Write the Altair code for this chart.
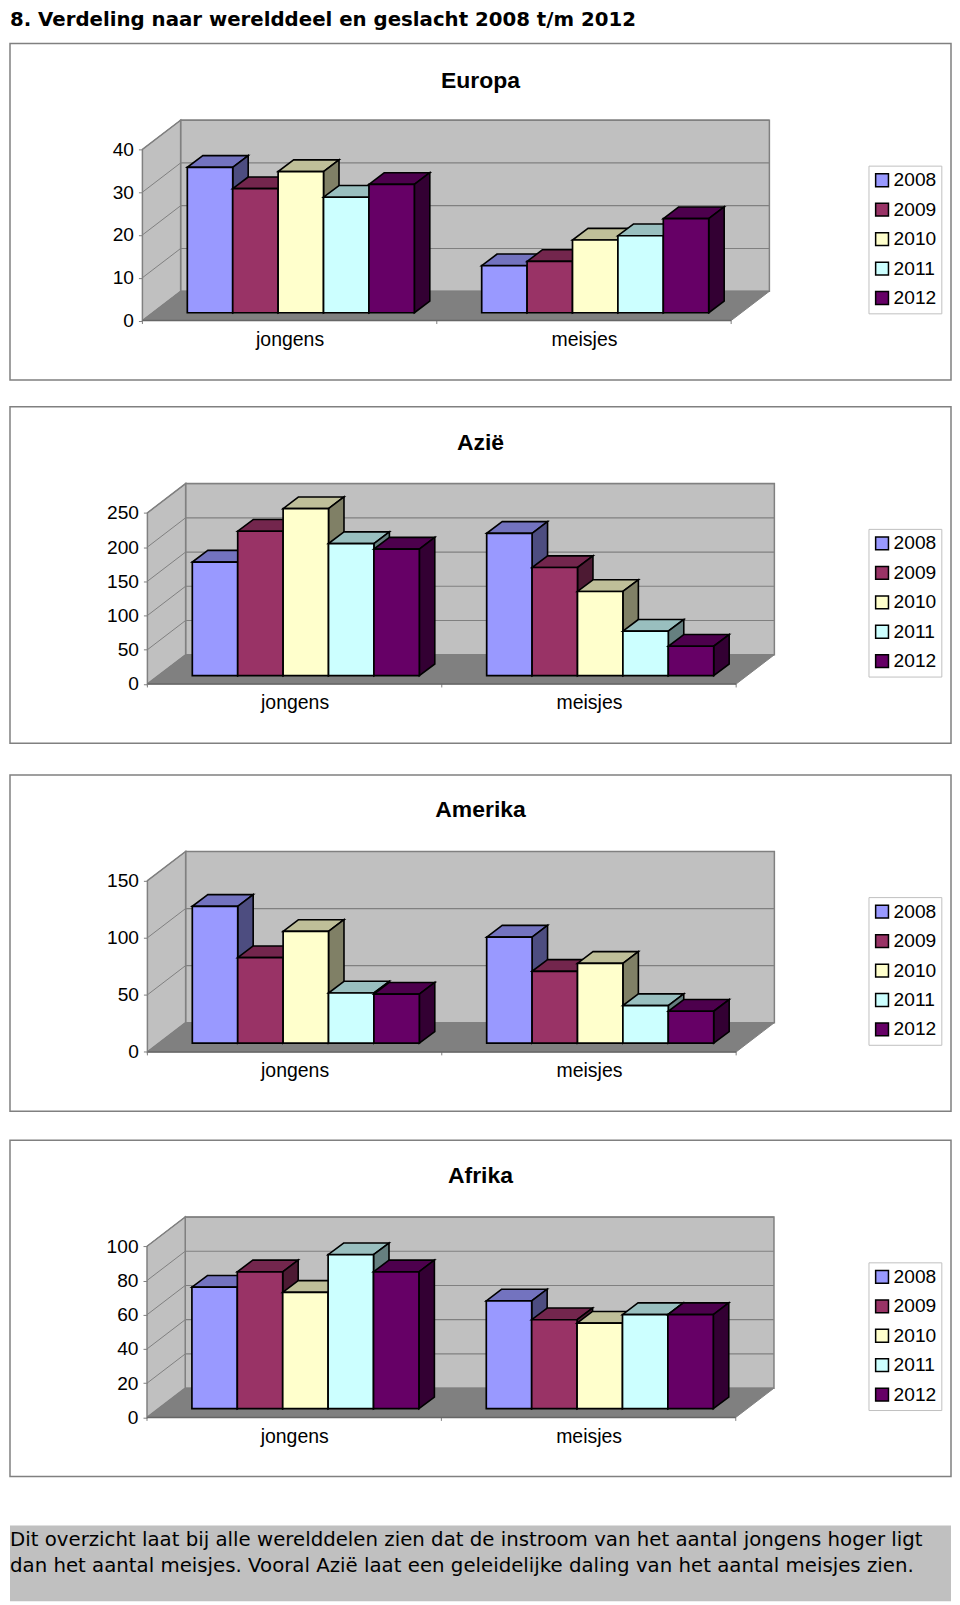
import altair as alt

HEADING = "8. Verdeling naar werelddeel en geslacht 2008 t/m 2012"
FOOT_1 = "Dit overzicht laat bij alle werelddelen zien dat de instroom van het aantal jongens hoger ligt"
FOOT_2 = "dan het aantal meisjes. Vooral Azië laat een geleidelijke daling van het aantal meisjes zien."

YEARS = ["2008", "2009", "2010", "2011", "2012"]
GROUPS = ["jongens", "meisjes"]
COLORS = ["#9999FF", "#993366", "#FFFFCC", "#CCFFFF", "#660066"]
TOPS = ["#7373BF", "#73264D", "#BFBF99", "#99BFBF", "#4D004D"]
SIDES = ["#4D4D80", "#4D1A33", "#808066", "#668080", "#330033"]

EUROPA_J = [34, 29, 33, 27, 30]
EUROPA_M = [11, 12, 17, 18, 22]
AZIE_J = [166, 211, 244, 193, 185]
AZIE_M = [208, 158, 123, 65, 43]
AMERIKA_J = [120, 75, 98, 44, 43]
AMERIKA_M = [93, 63, 70, 33, 28]
AFRIKA_J = [71, 80, 68, 90, 80]
AFRIKA_M = [63, 52, 50, 55, 55]

EUROPA_TICKS = [0, 10, 20, 30, 40]
AZIE_TICKS = [0, 50, 100, 150, 200, 250]
AMERIKA_TICKS = [0, 50, 100, 150]
AFRIKA_TICKS = [0, 20, 40, 60, 80, 100]

FONT = "Liberation Sans"
W = 943
H = 337
VIEW_LEFT = 9
CAT_PX = 295
GREY = "#808080"
WALL = "#C0C0C0"


def rows(*r):
    return alt.Data(values=list(r))


def panel(name, jong, meis, ticks, frame_top, floor, x0, base, title_y):
    ymax = ticks[-1]
    ppu = 171.5 / ymax
    ux = lambda px: px / CAT_PX
    uy = lambda px: px / ppu
    sx = alt.Scale(domain=[ux(VIEW_LEFT - x0), ux(VIEW_LEFT + W - x0)], nice=False, zero=False)
    sy = alt.Scale(domain=[-uy(frame_top + H - floor), uy(floor - frame_top)], nice=False, zero=False)
    x_axis = alt.Axis(
        values=[0.5, 1.5], labelExpr="datum.value == 0.5 ? '%s' : '%s'" % tuple(GROUPS),
        title=None, domain=False, ticks=False, grid=False, labelFont=FONT, labelFontSize=19.5,
        labelColor="black", labelPadding=10, offset=-(H - (floor - frame_top)), labelOverlap=False, zindex=1)
    y_axis = alt.Axis(
        values=ticks, title=None, domain=False, grid=False, tickColor=GREY, tickSize=4,
        labelFont=FONT, labelFontSize=19.2, labelColor="black", labelPadding=5,
        offset=-(x0 - VIEW_LEFT), labelOverlap=False, zindex=1)
    X = alt.X("x:Q", scale=sx, axis=x_axis)
    Y = alt.Y("y:Q", scale=sy, axis=y_axis)
    dx, dy = ux(38.3), uy(29.3)
    layers = []

    # back wall, side wall, floor
    layers.append(alt.Chart(rows({"x": dx, "x2": 2 + dx, "y": dy, "y2": ymax + dy})).mark_rect(
        fill=WALL, stroke=GREY, strokeWidth=1.5).encode(x=X, x2="x2:Q", y=Y, y2="y2:Q"))
    layers.append(alt.Chart(rows({"x": 0, "y": 0, "y2": ymax}, {"x": dx, "y": dy, "y2": ymax + dy})).mark_area(
        orient="vertical", fill=WALL, stroke=GREY, strokeWidth=1.5).encode(x=X, y=Y, y2="y2:Q"))
    layers.append(alt.Chart(rows({"y": 0, "x": 0, "x2": 2}, {"y": dy, "x": dx, "x2": 2 + dx})).mark_area(
        orient="horizontal", fill=GREY, stroke=GREY, strokeWidth=1).encode(x=X, x2="x2:Q", y=Y))

    # gridlines on back wall and side wall, category ticks
    grid_vals = [t for t in ticks if t > 0]
    layers.append(alt.Chart(rows(*[{"x": dx, "x2": 2 + dx, "y": t + dy, "y2": t + dy} for t in grid_vals])).mark_rule(
        color=GREY, strokeWidth=1.2).encode(x=X, x2="x2:Q", y=Y, y2="y2:Q"))
    layers.append(alt.Chart(rows(*[{"x": 0, "x2": dx, "y": t, "y2": t + dy} for t in grid_vals])).mark_rule(
        color=GREY, strokeWidth=1).encode(x=X, x2="x2:Q", y=Y, y2="y2:Q"))
    layers.append(alt.Chart(rows(*[{"x": c, "x2": c, "y": 0, "y2": -uy(3.5)} for c in (0, 1, 2)])).mark_rule(
        color=GREY, strokeWidth=1).encode(x=X, x2="x2:Q", y=Y, y2="y2:Q"))
    layers.append(alt.Chart(rows({"x": 0, "x2": 2, "y": 0, "y2": 0})).mark_rule(
        color="#666666", strokeWidth=1.5).encode(x=X, x2="x2:Q", y=Y, y2="y2:Q"))

    # bars, painted left to right: top, side, front
    bw = ux(45.5)
    bdx, bdy = ux(15.5), uy(11.7)
    b0 = uy(base)
    legend = alt.Legend(
        orient="none", legendX=860.3, legendY=122.3, title=None, fillColor="white", strokeColor="#C0C0C0",
        padding=5, labelFont=FONT, labelFontSize=19.2, labelColor="black", symbolType="square",
        symbolSize=165, symbolStrokeColor="black", symbolStrokeWidth=1.5, rowPadding=9.5, labelOffset=2,
        symbolOffset=-1)
    color = alt.Color("year:N", scale=alt.Scale(domain=YEARS, range=COLORS), legend=legend)
    for g, vals in enumerate((jong, meis)):
        for i, v in enumerate(vals):
            xl = g + ux(45) + i * bw
            xr = xl + bw
            top = b0 + v
            layers.append(alt.Chart(rows({"y": top, "x": xl, "x2": xr},
                                         {"y": top + bdy, "x": xl + bdx, "x2": xr + bdx})).mark_area(
                orient="horizontal", fill=TOPS[i], stroke="black", strokeWidth=1.6).encode(x=X, x2="x2:Q", y=Y))
            layers.append(alt.Chart(rows({"x": xr, "y": b0, "y2": top},
                                         {"x": xr + bdx, "y": b0 + bdy, "y2": top + bdy})).mark_area(
                orient="vertical", fill=SIDES[i], stroke="black", strokeWidth=1.6).encode(x=X, y=Y, y2="y2:Q"))
            layers.append(alt.Chart(rows({"x": xl, "x2": xr, "y": b0, "y2": top, "year": YEARS[i]})).mark_rect(
                stroke="black", strokeWidth=1.7).encode(x=X, x2="x2:Q", y=Y, y2="y2:Q", color=color))

    layers.append(alt.Chart(rows({"t": name})).mark_text(
        font=FONT, fontWeight="bold", fontSize=23, color="black", align="center", baseline="alphabetic").encode(
        text="t:N", x=alt.value(480.5 - VIEW_LEFT), y=alt.value(title_y - frame_top)))

    return alt.layer(*layers).properties(
        width=W, height=H, view=alt.ViewBackground(fill="white", stroke=GREY, strokeWidth=1.5))


def spacer(h):
    return alt.Chart(rows({"t": ""})).mark_text().encode(text="t:N").properties(width=W, height=h)


header = alt.Chart(rows({"t": HEADING})).mark_text(
    font="DejaVu Sans", fontWeight="bold", fontSize=19.8, color="black", align="left", baseline="alphabetic").encode(
    text="t:N", x=alt.value(0), y=alt.value(15)).properties(width=W, height=32.5)

footer = alt.Chart(rows({"t": FOOT_1, "y": 20.5}, {"t": FOOT_2, "y": 46.5})).mark_text(
    font="DejaVu Sans", fontSize=19.8, color="black", align="left", baseline="alphabetic").encode(
    text="t:N", x=alt.value(0), y=alt.Y("y:Q", scale=None, axis=None)).properties(
    width=W, height=76, view=alt.ViewBackground(fill="#C0C0C0", stroke=None))

chart = alt.vconcat(
    header,
    panel("Europa", EUROPA_J, EUROPA_M, EUROPA_TICKS, 42, 319.5, 141.7, 7.8, 86),
    spacer(27),
    panel("Azië", AZIE_J, AZIE_M, AZIE_TICKS, 406, 683.7, 146.7, 8.3, 449),
    spacer(32),
    panel("Amerika", AMERIKA_J, AMERIKA_M, AMERIKA_TICKS, 774.3, 1051.7, 146.7, 8.7, 816.7),
    spacer(28.5),
    panel("Afrika", AFRIKA_J, AFRIKA_M, AFRIKA_TICKS, 1139.3, 1417, 146.3, 8.7, 1181.7),
    spacer(49),
    footer,
    spacing=0,
    bounds="flush",
).resolve_scale(color="independent").resolve_legend(color="independent").properties(
    padding={"left": 1, "top": 0, "right": 0, "bottom": 0}
).configure_view(stroke=None)

chart.save("out.html", embed_options={"renderer": "svg", "actions": False})
